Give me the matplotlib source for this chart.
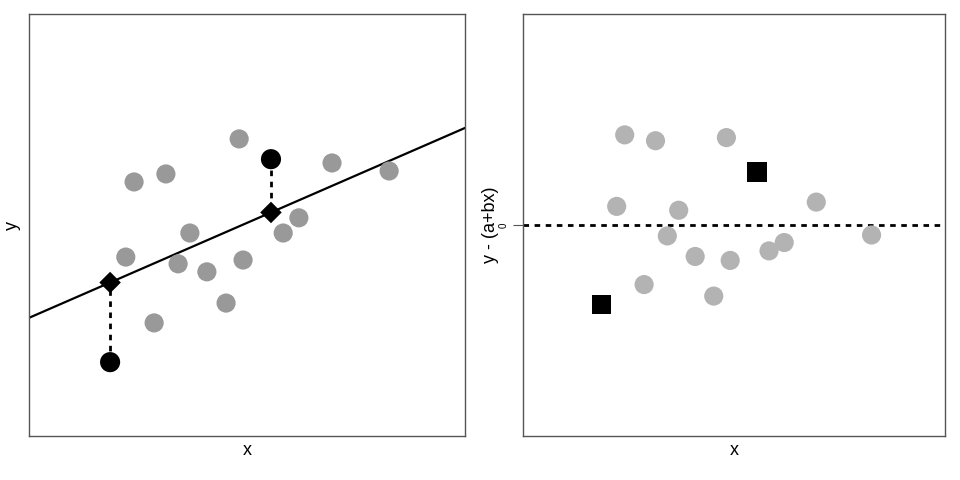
import matplotlib
matplotlib.use("Agg")
import matplotlib.pyplot as plt
import numpy as np

plt.rcParams['font.family'] = ['Liberation Sans', 'DejaVu Sans']

# data (arbitrary units)
x_gray = [2.41, 3.14, 4.82, 6.95, 8.26, 3.69, 2.22, 3.42, 4.08, 4.91, 6.19, 5.83, 4.52, 2.87]
y_gray = [6.02, 6.21, 7.04, 6.47, 6.28, 4.81, 4.24, 4.08, 3.89, 4.17, 5.17, 4.81, 3.15, 2.68]
x_hi = [1.86, 5.55]
y_hi = [1.75, 6.56]
a = 2.80
b = 0.450

xg = np.array(x_gray); yg = np.array(y_gray)
xh = np.array(x_hi); yh = np.array(y_hi)

fig = plt.figure(figsize=(9.6, 4.8), dpi=100)
ax1 = fig.add_axes([29/960, 44/480, 436/960, 422/480])
ax2 = fig.add_axes([523/960, 44/480, 422/960, 422/480])

spine_col = "#555555"
for ax in (ax1, ax2):
    for s in ax.spines.values():
        s.set_color(spine_col)
        s.set_linewidth(1.0)
    ax.set_xlim(0, 10)
    ax.set_xticks([])

# left panel
ax1.set_ylim(0, 10)
ax1.set_yticks([])
xl = np.array([0, 10])
ax1.plot(xl, a + b * xl, color="black", lw=1.6, zorder=2)
ax1.scatter(xg, yg, s=190, color="#999999", edgecolors="none", zorder=3)
fit_h = a + b * xh
for xi, yi, fi in zip(xh, yh, fit_h):
    ax1.plot([xi, xi], [yi, fi], color="black", lw=2, linestyle=(0, (2, 2)), zorder=2)
ax1.scatter(xh, yh, s=210, color="black", edgecolors="none", zorder=4)
ax1.scatter(xh, fit_h, s=120, marker="D", color="black", edgecolors="none", zorder=4)
ax1.set_xlabel("x", fontsize=13, labelpad=4)
ax1.set_ylabel("y", fontsize=13, labelpad=6)

# right panel
ax2.set_ylim(-5, 5)
ax2.axhline(0, color="black", lw=2, linestyle=(0, (2, 2)), zorder=2)
ax2.scatter(xg, yg - (a + b * xg), s=190, color="#b3b3b3", edgecolors="none", zorder=3)
ax2.scatter(xh, yh - (a + b * xh), s=200, marker="s", color="black", edgecolors="none", zorder=4)
ax2.set_yticks([0])
ax2.set_yticklabels(["0"], rotation=90, va="center", fontsize=7)
ax2.tick_params(axis="y", length=7, width=0.8, color=spine_col, pad=3)
ax2.set_xlabel("x", fontsize=13, labelpad=4)
ax2.set_ylabel("y - (a+bx)", fontsize=13, labelpad=0)

fig.savefig("out.png", dpi=100)
